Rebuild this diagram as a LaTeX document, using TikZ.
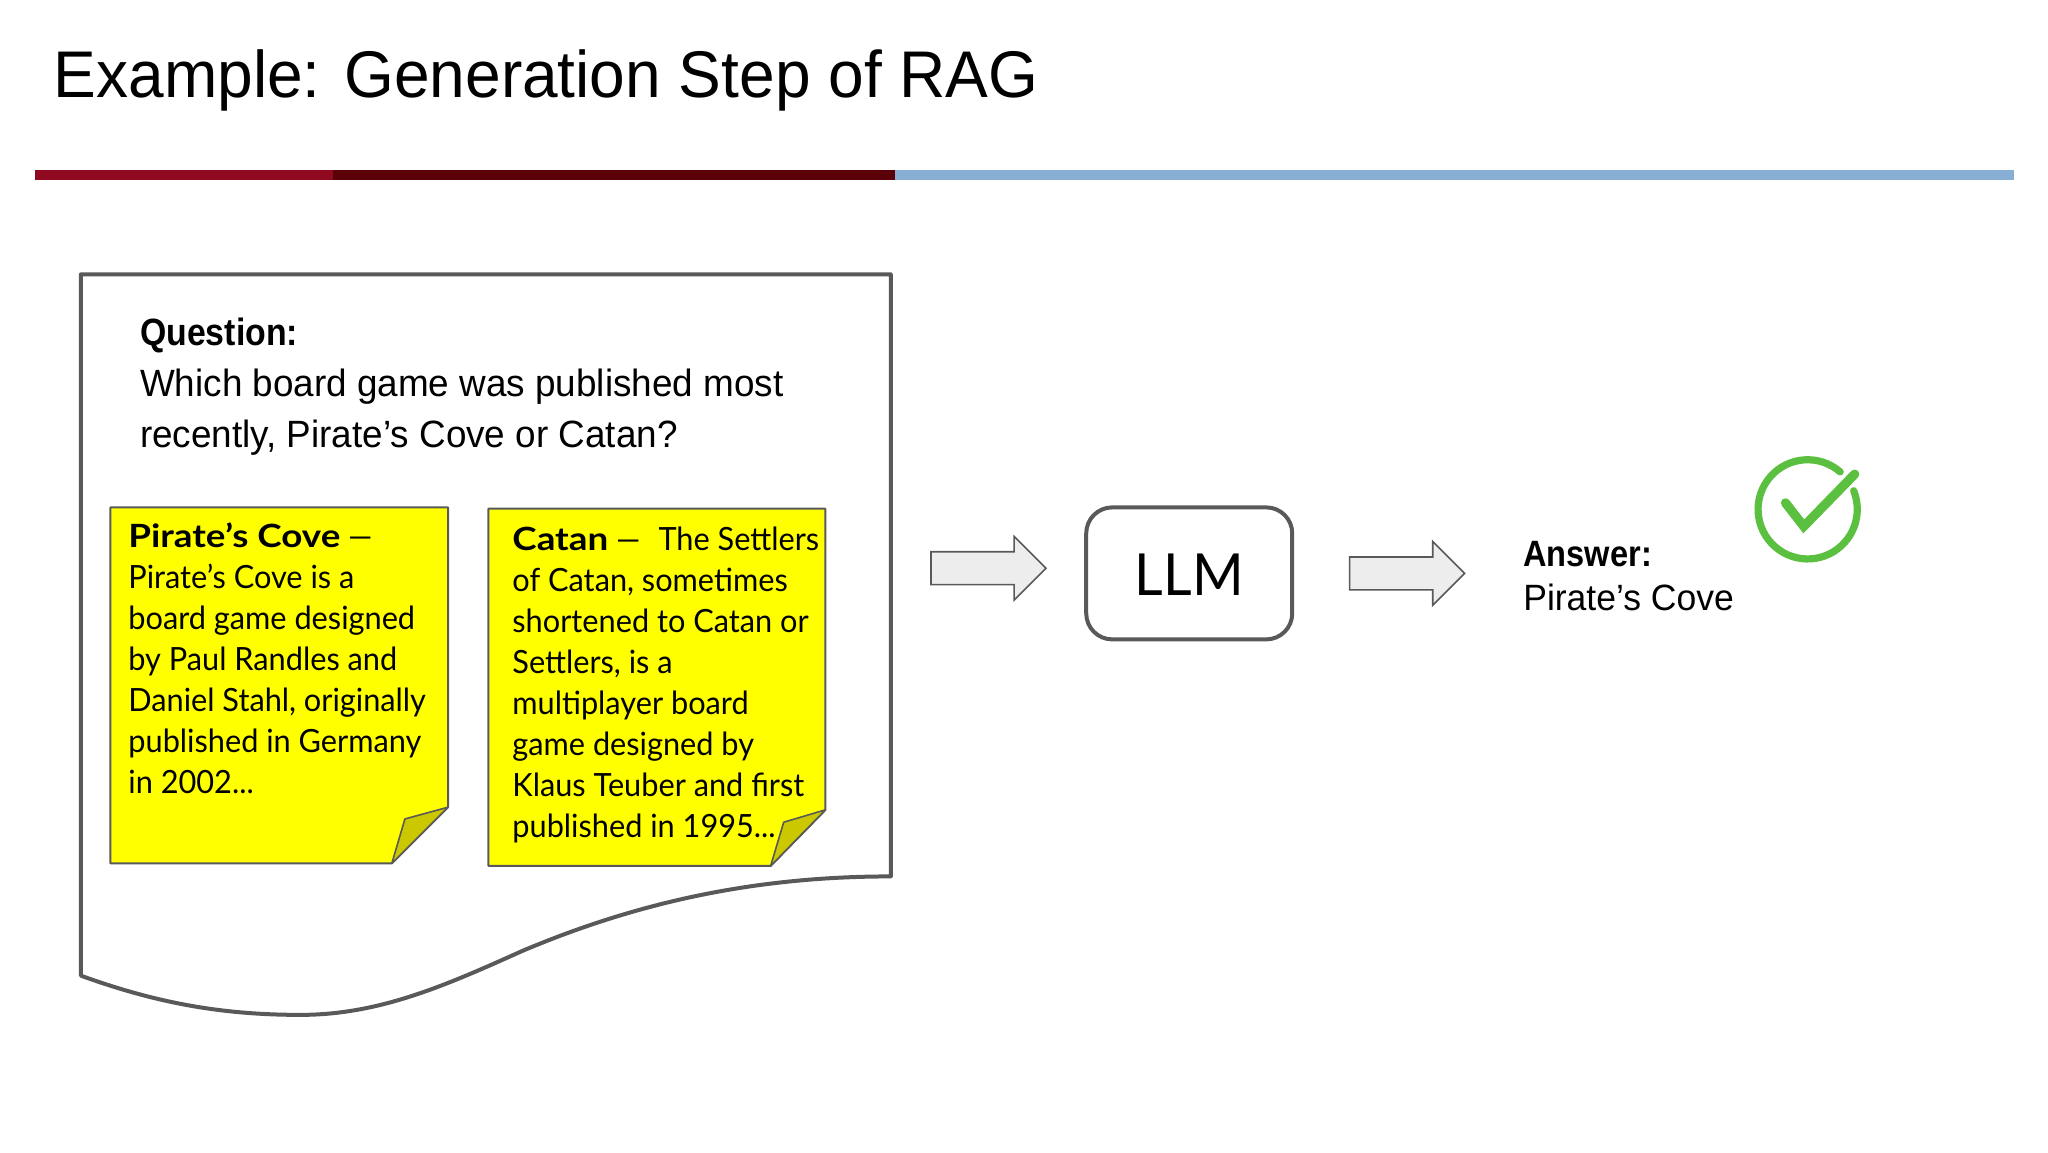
\documentclass[tikz,border=0pt]{standalone}
\usepackage{fontspec}
\setmainfont[FakeStretch=0.97, BoldFeatures={FakeStretch=0.89}]{Liberation Sans}
\newfontfamily\notefont[FakeStretch=0.96, BoldFeatures={FakeStretch=1.15}]{Lato}
\usepackage{tikz}
\usetikzlibrary{shapes.arrows, positioning}
\definecolor{edgegray}{HTML}{595959}
\definecolor{barred}{HTML}{8F0A20}
\definecolor{bardark}{HTML}{5C0007}
\definecolor{barblue}{HTML}{88AED3}
\definecolor{noteyellow}{RGB}{255,255,0}
\definecolor{foldyellow}{HTML}{CCC800}
\definecolor{checkgreen}{HTML}{5BBF3F}
\tikzstyle{headline} = [anchor=base west, inner sep=0, font=\fontsize{33}{40}\selectfont]
\tikzstyle{plaintext} = [anchor=north west, inner sep=0, align=left, font=\fontsize{19}{25.5}\selectfont]
\tikzstyle{answertext} = [anchor=north west, inner sep=0, align=left, font=\fontsize{18.3}{22.2}\selectfont]
\tikzstyle{notetext} = [anchor=north west, inner sep=0, align=left, font=\notefont\fontsize{16}{20.5}\selectfont]
\tikzstyle{notepaper} = [draw=edgegray, line width=1pt, fill=noteyellow, line join=round]
\tikzstyle{notefold} = [draw=edgegray, line width=0.8pt, fill=foldyellow, line join=round]
\tikzstyle{sheet} = [draw=edgegray, line width=2pt, line join=round]
\tikzstyle{modelbox} = [rectangle, rounded corners=13pt, minimum width=103pt, minimum height=66pt, text height=22.5pt, text depth=0pt, draw=edgegray, line width=2pt, font=\notefont\fontsize{29}{36}\selectfont]
\tikzstyle{blockarrow} = [single arrow, minimum height=57.5pt, minimum width=31pt, single arrow head extend=7.7pt, inner xsep=0, inner ysep=7.8pt, draw=edgegray, line width=0.8pt, fill=black!7]
\tikzstyle{checkmark} = [draw=checkgreen, line cap=round, line join=miter]

\begin{document}
\begin{tikzpicture}[x=0.65306pt, y=-0.65306pt]
\useasboundingbox (0,0) rectangle (1568,882);

% title and bar
\node (title) [headline] at (41,75) {Example: Generation Step of RAG};
\fill [barred] (27,130) rectangle (255,138);
\fill [bardark] (255,130) rectangle (685,138);
\fill [barblue] (685,130) rectangle (1542,138);

% page
\draw [sheet] (62,210) -- (682,210) -- (682,671)
  .. controls (580,671) and (490,690) .. (400,728)
  .. controls (340,755) and (290,777) .. (230,777)
  .. controls (170,777) and (120,768) .. (62,747) -- cycle;
\node (question) [plaintext] at (107,243) {\textbf{Question:}\\Which board game was published most\\recently, Pirate’s Cove or Catan?};

% notes
\draw [notepaper] (84.5,388.5) -- (343,388.5) -- (343,618) -- (300,661) -- (84.5,661) -- cycle;
\draw [notefold] (343,618) -- (310,627) -- (300,661) -- cycle;
\draw [notepaper] (374,389.5) -- (632,389.5) -- (632,620) -- (590,663) -- (374,663) -- cycle;
\draw [notefold] (632,620) -- (600,629.5) -- (590,663) -- cycle;
\node (pirates) [notetext] at (98,400) {\textbf{Pirate’s Cove} —\\Pirate’s Cove is a\\board game designed\\by Paul Randles and\\Daniel Stahl, originally\\published in Germany\\in 2002...};
\node (catan) [notetext] at (392,403) {\textbf{Catan} —\hspace{9pt}The Settlers\\of Catan, sometimes\\shortened to Catan or\\Settlers, is a\\multiplayer board\\game designed by\\Klaus Teuber and first\\published in 1995...};

% model and answer
\node (arrowin) [blockarrow] at (750.5,435) {};
\node (llm) [modelbox] at (910.5,439) {LLM};
\node (arrowout) [blockarrow] at (1071,439) {};
\node (answer) [answertext] at (1166,414) {\textbf{Answer:}\\Pirate’s Cove};

% check
\draw [checkmark, line width=3.6pt] (1408.9,361.3) arc[start angle=49, delta angle=333, radius=24.8pt];
\draw [checkmark, line width=4.6pt] (1367,385) -- (1381,403) -- (1420,363);
\end{tikzpicture}
\end{document}
